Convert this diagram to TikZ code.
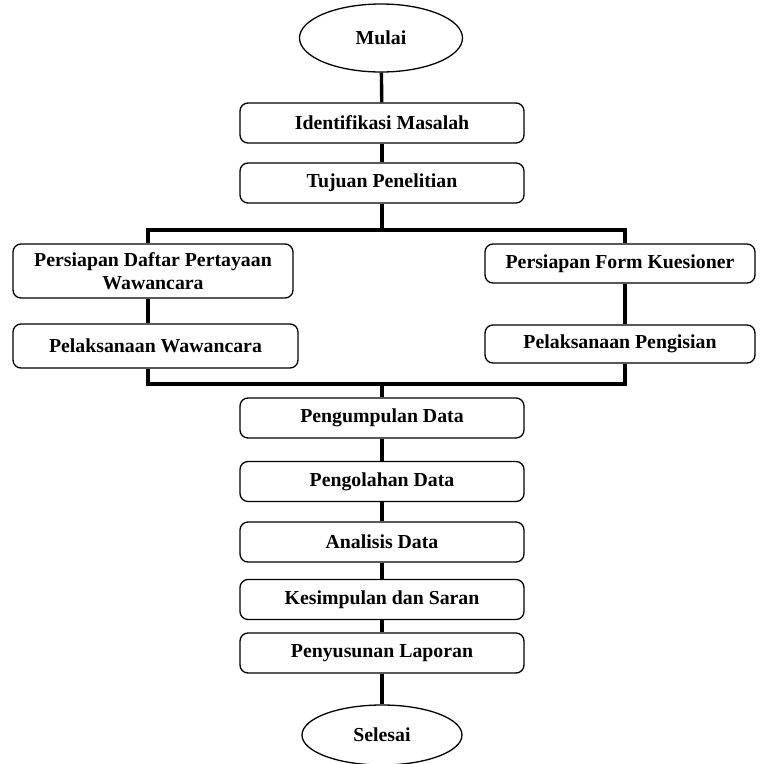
\documentclass[tikz,border=0pt]{standalone}
\usepackage{fontspec}
\setmainfont{Liberation Serif}
\usetikzlibrary{shapes.geometric}

\begin{document}
\begin{tikzpicture}[x=1pt, y=-1pt,
        box/.style={draw, line width=1.3pt, rounded corners=8pt, minimum width=284pt, minimum height=40pt, align=center, font=\fontsize{19.8}{22.5}\selectfont\bfseries, inner sep=0pt},
        terminal/.style={draw, ellipse, line width=1.3pt, minimum width=163pt, minimum height=68pt, font=\fontsize{19.8}{22.5}\selectfont\bfseries, inner sep=0pt},
        conn/.style={line width=3.4pt}]
        \useasboundingbox (0,0) rectangle (761,764);
        %%%%%%%%%%%%%%%%%%%%%%%% Awal %%%%%%%%%%%%%%%%%%%%%%%%%%%%%%%%%%%
        \node[terminal] (mulai) at (381,38) {Mulai};
        \node[box] (idm) at (382,123) {Identifikasi Masalah};
        \node[box] (tujuan) at (382,183) {Tujuan Penelitian};
        %%%%%%%%%%%%%%%%%%%%%%%% Cabang kiri %%%%%%%%%%%%%%%%%%%%%%%%%%%%%%%%%%
        \node[box, minimum width=280pt, minimum height=54pt] (pdw) at (153,271) {Persiapan Daftar Pertayaan\\Wawancara};
        \node[box, minimum width=285pt, minimum height=44pt] (plw) at (155.5,346) {Pelaksanaan Wawancara};
        %%%%%%%%%%%%%%%%%%%%%%%% Cabang kanan %%%%%%%%%%%%%%%%%%%%%%%%%%%%%%%%%
        \node[box, minimum width=270pt, minimum height=39pt] (pfk) at (620,263.5) {Persiapan Form Kuesioner};
        \node[box, minimum width=270pt, minimum height=38pt] (plp) at (620,344) {Pelaksanaan Pengisian};
        %%%%%%%%%%%%%%%%%%%%%%%% Tahap akhir %%%%%%%%%%%%%%%%%%%%%%%%%%%%%%%%%
        \node[box] (pgd) at (382,418) {Pengumpulan Data};
        \node[box] (pod) at (382,481.5) {Pengolahan Data};
        \node[box] (and) at (382,542) {Analisis Data};
        \node[box] (kds) at (382,599.5) {Kesimpulan dan Saran};
        \node[box] (pyl) at (382,653) {Penyusunan Laporan};
        \node[terminal, minimum width=160pt, minimum height=60pt] (selesai) at (382,735) {Selesai};
        %%%%%%%%%%%%%%%%%%%%%%%% Titik percabangan %%%%%%%%%%%%%%%%%%%%%%%%%%%%
        \coordinate (splitL) at (148,230);
        \coordinate (splitR) at (625,230);
        \coordinate (joinL) at (148,384);
        \coordinate (joinR) at (625,384);
        %%%%%%%%%%%%%%%%%%%%%%%% Garis penghubung %%%%%%%%%%%%%%%%%%%%%%%%%%%%%
        \draw[conn] (mulai) -- (idm);
        \draw[conn] (idm) -- (tujuan);
        \draw[conn] (tujuan) -- (tujuan |- splitL);
        \draw[conn] (splitL |- pdw.north) -- (splitL) -- (splitR) -- (splitR |- pfk.north);
        \draw[conn] (splitL |- pdw.south) -- (splitL |- plw.north);
        \draw[conn] (splitR |- pfk.south) -- (splitR |- plp.north);
        \draw[conn] (splitL |- plw.south) -- (joinL) -- (joinR) -- (splitR |- plp.south);
        \draw[conn] (pgd |- joinL) -- (pgd);
        \draw[conn] (pgd) -- (pod);
        \draw[conn] (pod) -- (and);
        \draw[conn] (and) -- (kds);
        \draw[conn] (kds) -- (pyl);
        \draw[conn] (pyl) -- (selesai);
      \end{tikzpicture}
\end{document}
